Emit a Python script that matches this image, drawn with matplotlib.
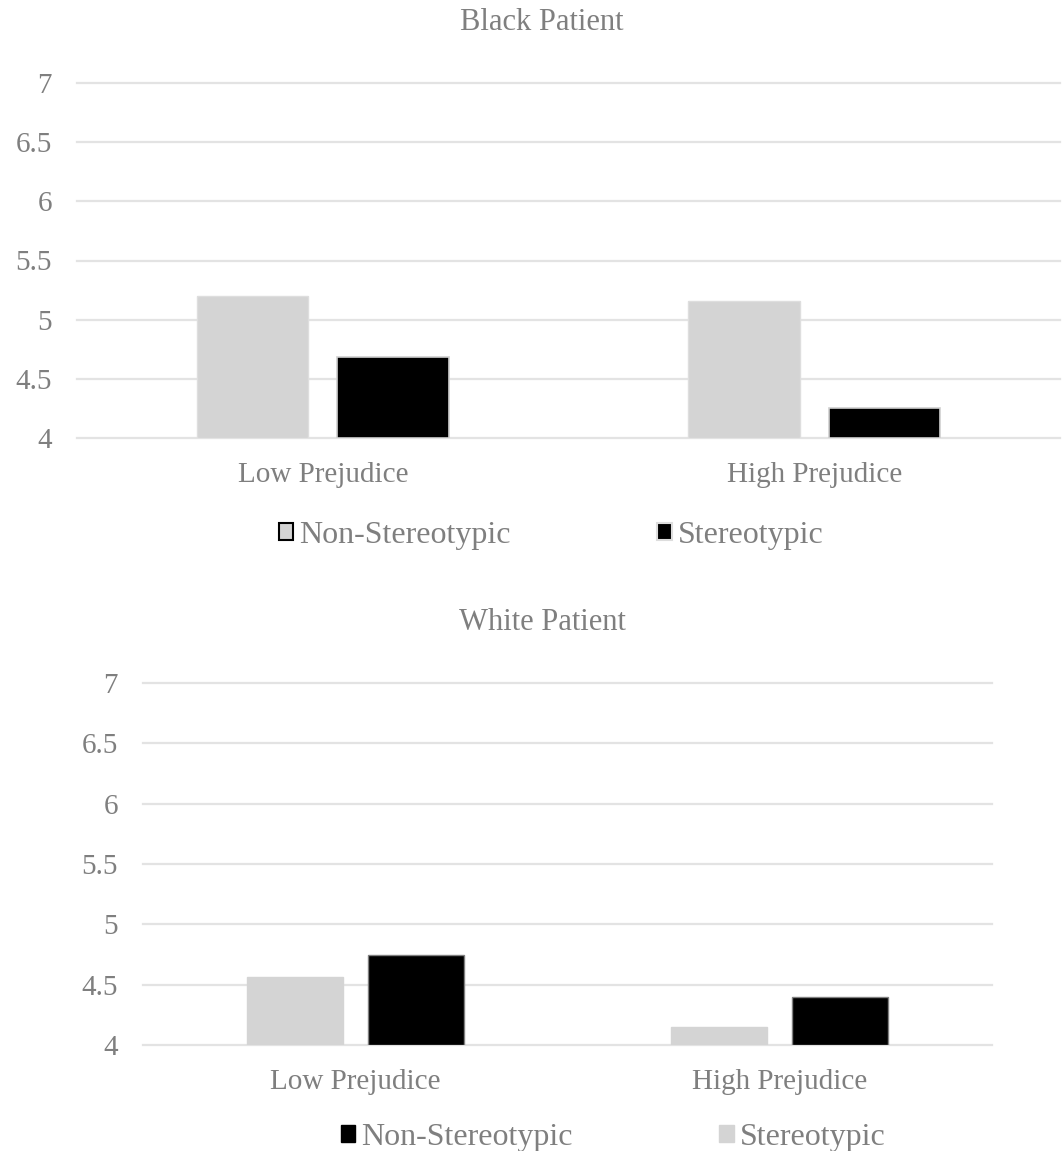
import numpy as np
import matplotlib
matplotlib.use('Agg')
import matplotlib.pyplot as plt
from matplotlib.patches import Patch

plt.rcParams['font.family'] = ['Liberation Serif', 'DejaVu Serif']

# data
categories = ['Low Prejudice', 'High Prejudice']
yticks = [4, 4.5, 5, 5.5, 6, 6.5, 7]

black_non_stereo = [5.20, 5.16]
black_stereo = [4.685, 4.25]

white_stereo = [4.56, 4.15]
white_non_stereo = [4.75, 4.40]

TEXT = '#7f7f7f'
GRID = '#e3e3e3'
LIGHT = '#d4d4d4'

fig = plt.figure(figsize=(10.64, 11.51), dpi=100)

W, H = 1064, 1151


def make_axes(left, right, top, bottom):
    return fig.add_axes([left / W, 1 - bottom / H, (right - left) / W, (bottom - top) / H])


def style_axes(ax):
    ax.set_ylim(4, 7)
    ax.set_xlim(-0.5, 1.5)
    ax.set_yticks(yticks)
    ax.set_yticklabels(['4', '4.5', '5', '5.5', '6', '6.5', '7'])
    ax.set_xticks(np.arange(len(categories)))
    ax.set_xticklabels(categories)
    for s in ax.spines.values():
        s.set_visible(False)
    ax.yaxis.grid(True, color=GRID, linewidth=1.6)
    for gl in ax.get_ygridlines():
        gl.set_clip_on(False)
    ax.set_axisbelow(True)
    ax.tick_params(axis='both', length=0, labelsize=21, labelcolor=TEXT)
    ax.tick_params(axis='y', pad=18)
    ax.tick_params(axis='x', pad=17)


x = np.arange(len(categories))
bw = 0.227
off = 0.1425

leg_kw = dict(loc='center', ncol=2, frameon=False, fontsize=23, labelcolor=TEXT,
              handlelength=0.45, handleheight=0.45, handletextpad=0.18,
              columnspacing=4.6)

# ---- Black Patient ----
ax1 = make_axes(77, 1060, 83, 438)
style_axes(ax1)
ax1.bar(x - off, np.array(black_non_stereo) - 4, bw, bottom=4, color=LIGHT,
        edgecolor='#dedede', linewidth=1)
ax1.bar(x + off, np.array(black_stereo) - 4, bw, bottom=4, color='black',
        edgecolor='#cfcfcf', linewidth=1.2)
fig.text(542 / W, 1 - 23 / H, 'Black Patient', ha='center', va='center',
         fontsize=22, color=TEXT)
h1 = [Patch(facecolor=LIGHT, edgecolor='black', linewidth=1.5, label='Non-Stereotypic'),
      Patch(facecolor='black', edgecolor='#dddddd', linewidth=1.5, label='Stereotypic')]
fig.legend(handles=h1, bbox_to_anchor=(551 / W, 1 - 535 / H), **leg_kw)

# ---- White Patient ----
ax2 = make_axes(143, 992, 683, 1045)
style_axes(ax2)
ax2.bar(x - off, np.array(white_stereo) - 4, bw, bottom=4, color=LIGHT,
        edgecolor=LIGHT, linewidth=1)
ax2.bar(x + off, np.array(white_non_stereo) - 4, bw, bottom=4, color='black',
        edgecolor='#808080', linewidth=1)
fig.text(542 / W, 1 - 623 / H, 'White Patient', ha='center', va='center',
         fontsize=22, color=TEXT)
h2 = [Patch(facecolor='black', edgecolor='black', label='Non-Stereotypic'),
      Patch(facecolor=LIGHT, edgecolor=LIGHT, label='Stereotypic')]
fig.legend(handles=h2, bbox_to_anchor=(613 / W, 1 - 1137 / H), **leg_kw)

fig.savefig('out.png', dpi=100, facecolor='white')
